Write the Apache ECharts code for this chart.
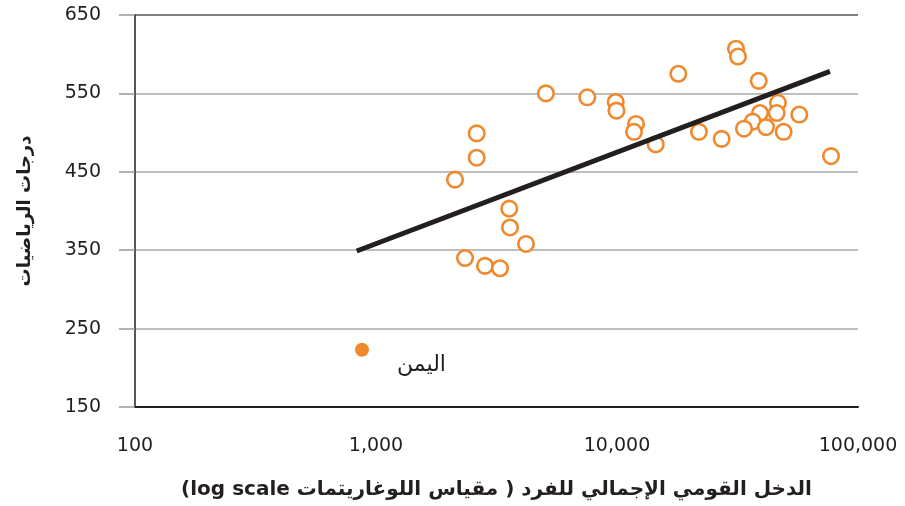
<!DOCTYPE html>
<html>
<head>
    <meta charset="utf-8">
    <script src="https://cdn.jsdelivr.net/npm/echarts@6/dist/echarts.min.js"></script>
    <style>
        html, body { margin: 0; padding: 0; background: #fff; }
    </style>
</head>
<body>
    <div id="main" style="width: 905px;height:506px;"></div>
    <script>
        // الدخل القومي للفرد (دولار) ودرجات الرياضيات
        var gniValues = [5070, 7530, 2617, 2617, 2127, 9876, 9950, 11990, 11765, 14475,
            17970, 21880, 27180, 31170, 31770, 38730, 46560, 39200, 45970, 36560,
            33650, 41510, 49140, 57080, 77270, 3573, 3597, 4192, 2341, 2833, 3270];
        var mathScores = [550, 545, 499, 468, 440, 539, 528, 511, 501, 485,
            575, 501, 492, 607, 597, 566, 538, 525, 525, 514,
            505, 507, 501, 523, 470, 403, 379, 358, 340, 330, 327];
        // اليمن
        var yemenPoint = [875, 223];
        var yemenLabel = 'اليمن';
        // خط الاتجاه
        var trendX = [832, 76500];
        var trendY = [349, 578];
        var xTicks = [100, 1000, 10000, 100000];
        var yMin = 150, yMax = 650, yStep = 100;

        var fontFam = "'DejaVu Sans', sans-serif";
        var orange = '#f0882c';
        var ink = '#231f20';

        var myChart = echarts.init(document.getElementById('main'));

        var scatterData = gniValues.map(function (v, i) {
            return [v, mathScores[i]];
        });
        var trendData = trendX.map(function (v, i) {
            return [v, trendY[i]];
        });

        var option = {
            animation: false,
            textStyle: { fontFamily: fontFam },
            grid: {
                left: 135,
                right: 47,
                top: 15,
                bottom: 99
            },
            xAxis: {
                type: 'log',
                logBase: 10,
                min: xTicks[0],
                max: xTicks[xTicks.length - 1],
                name: '\u202Bالدخل القومي الإجمالي للفرد ( مقياس اللوغاريتمات log scale)\u202C',
                nameLocation: 'middle',
                nameGap: 73,
                nameTextStyle: {
                    fontSize: 20,
                    fontWeight: 'bold',
                    color: ink,
                    fontFamily: fontFam
                },
                axisLine: {
                    show: true,
                    lineStyle: { color: ink, width: 2 }
                },
                axisTick: { show: false },
                splitLine: { show: false },
                axisLabel: {
                    fontSize: 19,
                    color: ink,
                    margin: 30,
                    formatter: function (v) {
                        return String(Math.round(v)).replace(/\B(?=(\d{3})+(?!\d))/g, ',');
                    }
                }
            },
            yAxis: {
                type: 'value',
                min: yMin,
                max: yMax,
                interval: yStep,
                name: 'درجات الرياضيات',
                nameLocation: 'middle',
                nameGap: 101,
                nameTextStyle: {
                    fontSize: 18,
                    fontWeight: 'bold',
                    color: ink,
                    fontFamily: fontFam
                },
                axisLine: {
                    show: true,
                    onZero: false,
                    lineStyle: { color: ink, width: 1.5 }
                },
                axisTick: {
                    show: true,
                    length: 16,
                    lineStyle: { color: '#999', width: 1.5 }
                },
                axisLabel: {
                    fontSize: 19,
                    color: ink,
                    margin: 34
                },
                splitLine: {
                    show: true,
                    lineStyle: {
                        color: [ink, '#aaa', '#aaa', '#aaa', '#aaa', '#555'],
                        width: 1.5
                    }
                }
            },
            series: [{
                type: 'scatter',
                data: scatterData,
                symbol: 'circle',
                symbolSize: 15.5,
                itemStyle: {
                    color: '#fff',
                    borderColor: orange,
                    borderWidth: 2.6,
                    opacity: 1
                },
                z: 2
            }, {
                type: 'scatter',
                data: [yemenPoint],
                symbol: 'circle',
                symbolSize: 14,
                itemStyle: { color: orange, opacity: 1 },
                label: {
                    show: true,
                    formatter: yemenLabel,
                    position: 'right',
                    distance: 28,
                    offset: [0, 16],
                    fontSize: 22,
                    color: ink,
                    fontFamily: fontFam
                },
                z: 2
            }, {
                type: 'line',
                data: trendData,
                symbol: 'none',
                lineStyle: { color: ink, width: 5 },
                z: 3
            }]
        };

        myChart.setOption(option);
    </script>
</body>
</html>
